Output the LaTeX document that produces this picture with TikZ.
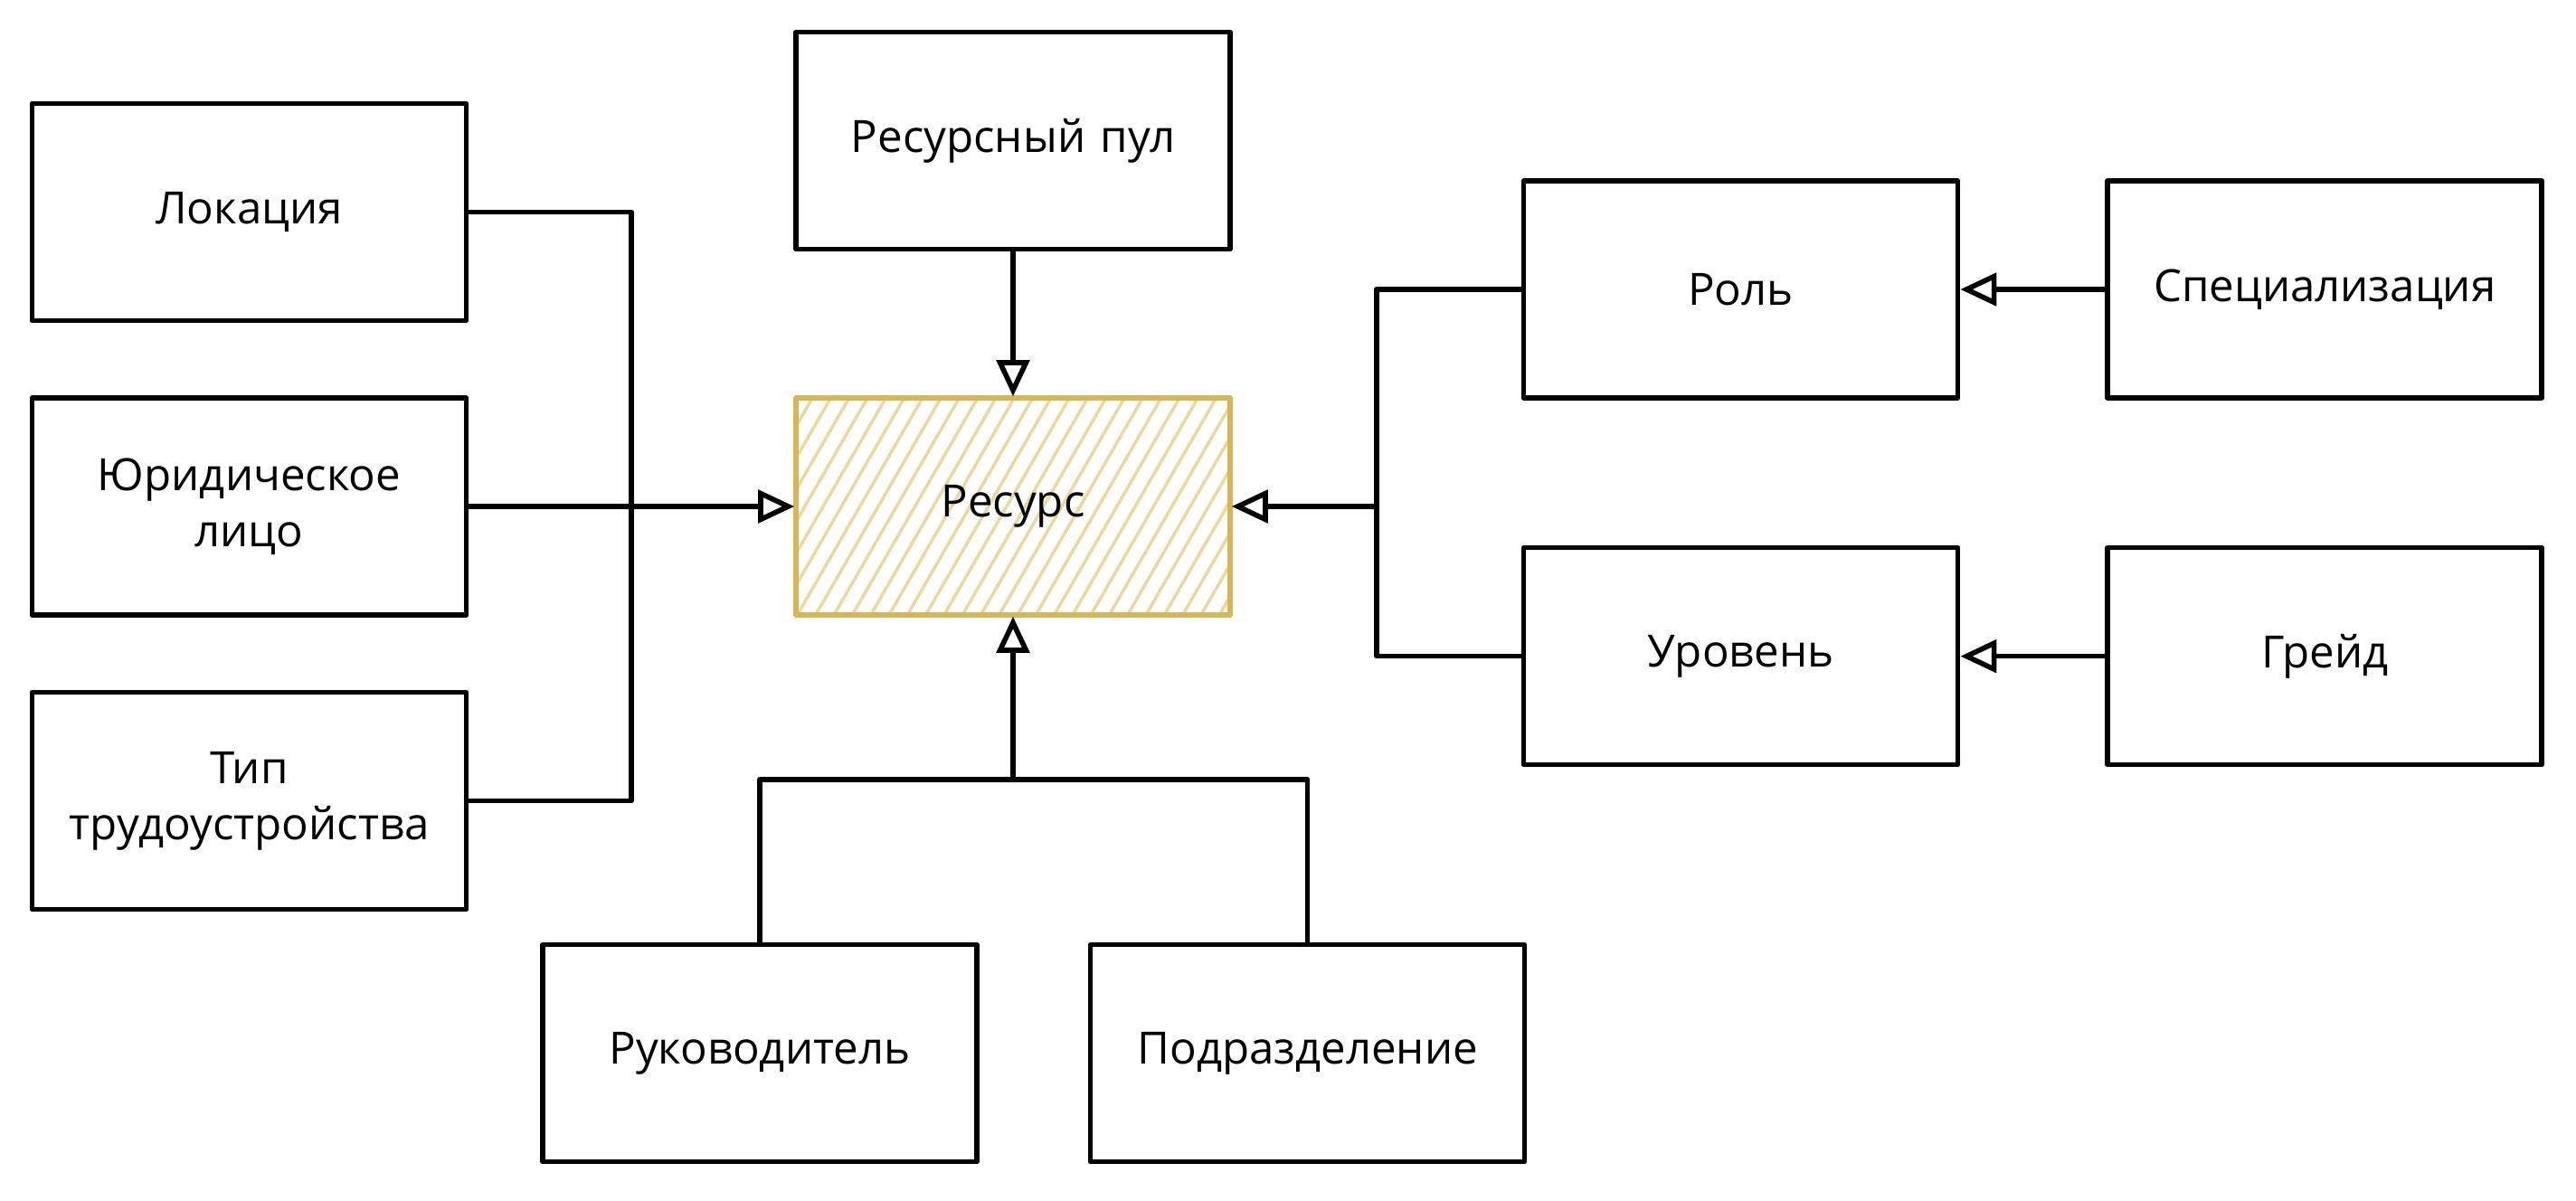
\documentclass[tikz,border=0pt]{standalone}
\usepackage{fontspec}
\usepackage{tikz}
\usetikzlibrary{positioning,calc,arrows.meta,patterns.meta}
\setmainfont{Open Sans}
\definecolor{boxgold}{RGB}{214, 182, 86}
\definecolor{hatchgold}{RGB}{234, 216, 160}

\begin{document}
\begin{tikzpicture}[
  node distance=0.8cm and 3.6cm,
  box/.style={rectangle, draw=black, line width=1.6pt, line join=round,
              minimum width=4.8cm, minimum height=2.4cm, inner sep=0pt,
              text width=4.4cm, align=center, font=\fontsize{14}{17.5}\selectfont},
  mainbox/.style={box, draw=boxgold,
                  pattern={Lines[angle=60, distance=5pt, line width=1pt]},
                  pattern color=hatchgold},
  line/.style={line width=1.6pt, line join=round},
  arrow/.style={line, -{Triangle[open, length=4mm, width=3.6mm, line width=1.6pt]}}
]
\useasboundingbox (0,0) rectangle (28.48,-13.28);

\node[mainbox] (res) at (11.2,-5.6) {Ресурс};
\node[box, above=1.6cm of res] (pool) {Ресурсный пул};
\node[box, left=3.6cm of res] (legal) {Юридическое\\лицо};
\node[box, above=of legal] (loc) {Локация};
\node[box, below=of legal] (emptype) {Тип\\трудоустройства};
\node[box, below=3.6cm of res, xshift=-2.8cm] (head) {Руководитель};
\node[box, right=1.2cm of head] (dept) {Подразделение};
\node[box, right=3.2cm of res, yshift=2.4cm] (role) {Роль};
\node[box, below=1.6cm of role] (level) {Уровень};
\node[box, right=1.6cm of role] (spec) {Специализация};
\node[box, right=1.6cm of level] (grade) {Грейд};

\coordinate (busL) at ($(legal.east)!0.5!(res.west)$);
\coordinate (busB) at ($(res.south)!0.5!(res.south |- head.north)$);
\coordinate (busR) at ($(res.east)!0.5!(res.east -| role.west)$);

\draw[line] (loc.east) -| (busL) |- (emptype.east);
\draw[arrow] (legal.east) -- (res.west);
\draw[arrow] (pool) -- (res);
\draw[line] (head.north) |- (busB) -| (dept.north);
\draw[arrow] (busB) -- (res.south);
\draw[line] (role.west) -| (busR) |- (level.west);
\draw[arrow] (busR) -- (res.east);
\draw[arrow] (spec) -- (role);
\draw[arrow] (grade) -- (level);
\end{tikzpicture}
\end{document}
